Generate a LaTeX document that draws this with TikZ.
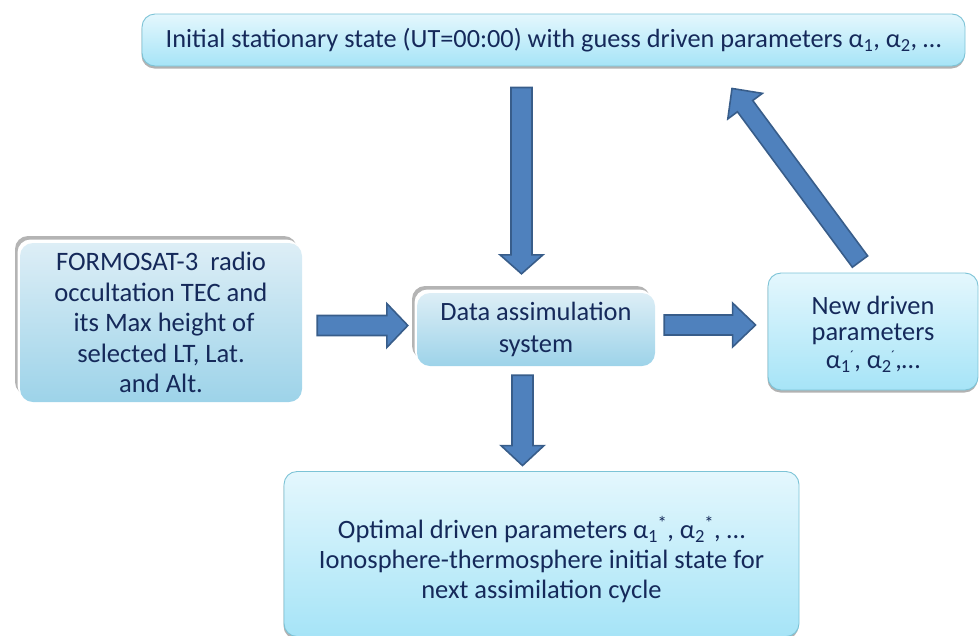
\documentclass[tikz,border=0pt]{standalone}
\usepackage{fontspec}
\setmainfont{Carlito}
\usetikzlibrary{calc,shadows}
\definecolor{txt}{HTML}{15295A}
\definecolor{arrfill}{HTML}{4F81BD}
\definecolor{arrline}{HTML}{385D8A}
\definecolor{boxtop}{HTML}{E4F7FD}
\definecolor{boxbot}{HTML}{A6E4F7}
\definecolor{boxline}{HTML}{7CC3D6}
\definecolor{bevtop}{HTML}{DDEEF6}
\definecolor{bevbot}{HTML}{9DD3E9}
\definecolor{bevgray}{HTML}{B4B4B4}
\newcommand\fatarrow[5]{%
  \coordinate (fa-h) at ($(#2)!#5!(#1)$);
  \filldraw[fatarrowstyle] ($(#1)!#3!90:(#2)$) -- ($(fa-h)!#3!-90:(#1)$) -- ($(fa-h)!#4!-90:(#1)$) -- (#2)
    -- ($(fa-h)!#4!90:(#1)$) -- ($(fa-h)!#3!90:(#1)$) -- ($(#1)!#3!-90:(#2)$) -- cycle;}
\newcommand\primemark{\raisebox{0.3em}{\fontsize{14}{14}\selectfont ´}}
\tikzset{
  base/.style={rounded corners=13pt, align=center, text=txt, inner sep=0pt},
  glossy/.style={base, draw=boxline, line width=0.9pt, top color=boxtop, bottom color=boxbot,
    drop shadow={shadow xshift=-0.5pt, shadow yshift=-2.5pt, opacity=0.3, fill=black}},
  bevel/.style={base, top color=bevtop, bottom color=bevbot,
    general shadow={shadow xshift=-5pt, shadow yshift=7pt, fill=bevgray},
    general shadow={shadow xshift=-2.5pt, shadow yshift=3.5pt, fill=white}},
  fatarrowstyle/.style={fill=arrfill, draw=arrline, line width=1.6pt, line join=miter}
}
\begin{document}
\begin{tikzpicture}[x=1pt,y=-1pt]
\useasboundingbox (0,0) rectangle (979,635);
\node[glossy, minimum width=823pt, minimum height=52pt, font=\fontsize{26.3}{30}\selectfont] (init) at (553.5,40)
  {Initial stationary state (UT=00:00) with guess driven parameters α\textsubscript{1}, α\textsubscript{2}, …};
\node[bevel, minimum width=282pt, minimum height=159pt, font=\fontsize{26.6}{30.5}\selectfont] (formosat) at (161,322.5)
  {FORMOSAT-3\ \ radio\\occultation TEC and\\\ its Max height of\\selected LT, Lat.\\and Alt.};
\node[bevel, minimum width=238pt, minimum height=73pt, font=\fontsize{26.4}{32}\selectfont] (das) at (536,329.5)
  {Data assimulation\\system};
\node[glossy, minimum width=210pt, minimum height=117pt, font=\fontsize{26.4}{25.5}\selectfont] (newp) at (873,331.5)
  {\rule{0pt}{24pt}New driven\\parameters\\[3pt]α\textsubscript{1}\kern-0.5pt\primemark, α\textsubscript{2}\kern-0.5pt\primemark,…};
\node[glossy, minimum width=515pt, minimum height=165pt, font=\fontsize{26.5}{30}\selectfont] (opt) at (541.5,554)
  {\rule{0pt}{34pt}Optimal driven parameters α\textsubscript{1}\kern-0.5pt\textsuperscript{*}, α\textsubscript{2}\kern-0.5pt\textsuperscript{*}, …\\Ionosphere-thermosphere initial state for\\next assimilation cycle};
% arrow end points
\coordinate (a1s) at ($(init.south)+(-32,21)$);
\coordinate (a1e) at ($(das.north)+(-14.5,-19)$);
\coordinate (a2s) at ($(das.south)+(-13.5,9)$);
\coordinate (a2e) at ($(opt.north)+(-19,-5.5)$);
\coordinate (a3s) at ($(das.east)+(9,-4.5)$);
\coordinate (a3e) at ($(newp.west)+(-12,-6.5)$);
\coordinate (a4s) at ($(formosat.east)+(15,3)$);
\coordinate (a4e) at ($(das.west)+(-9,-4)$);
\coordinate (a5s) at ($(newp.north)+(-13,-11)$);
\coordinate (a5e) at ($(init.south)+(178.5,22)$);
\fatarrow{a1s}{a1e}{10.5pt}{21.5pt}{19pt}
\fatarrow{a2s}{a2e}{10.5pt}{21.5pt}{20pt}
\fatarrow{a3s}{a3e}{10pt}{22pt}{23pt}
\fatarrow{a4s}{a4e}{10pt}{22pt}{21pt}
\fatarrow{a5s}{a5e}{9.5pt}{21.5pt}{22pt}
\end{tikzpicture}
\end{document}
